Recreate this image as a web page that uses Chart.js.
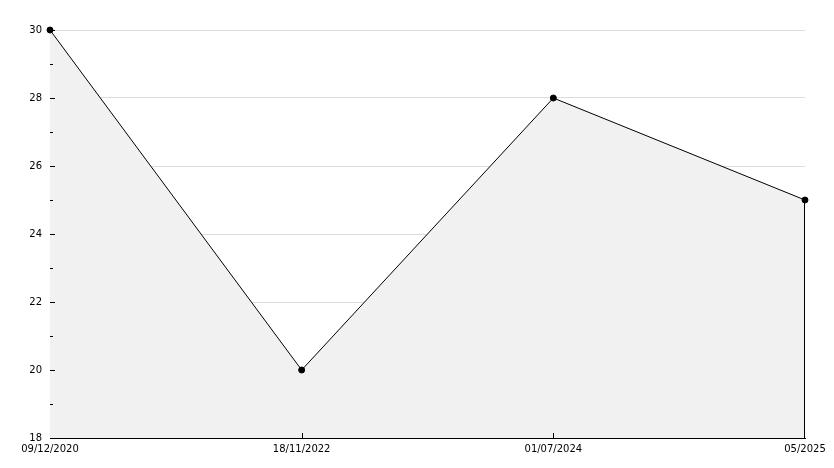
<!DOCTYPE html>
<html>
<head>
<meta charset="utf-8">
<style>
  html, body { margin: 0; padding: 0; background: #fff; }
  canvas { display: block; }
</style>
<script src="https://cdn.jsdelivr.net/npm/chart.js@4"></script>
</head>
<body>
<canvas id="grafica" width="834" height="468"></canvas>
<script>
const fechas = ['09/12/2020', '18/11/2022', '01/07/2024', '05/2025'];
const valores = [30, 20, 28, 25];
const ejeMin = 18;
const ejeMax = 30;

// marcas de los ejes hacia dentro y borde derecho del área
const marcasPlugin = {
  id: 'marcas',
  afterDatasetsDraw(chart) {
    const ctx = chart.ctx;
    const x = chart.scales.x;
    const y = chart.scales.y;
    const area = chart.chartArea;
    ctx.save();
    ctx.strokeStyle = '#000';
    ctx.lineWidth = 1;
    ctx.beginPath();
    for (let v = ejeMin + 1; v <= ejeMax; v++) {
      const py = Math.round(y.getPixelForValue(v)) + 0.5;
      const largo = v % 2 === 0 ? 5 : 3;
      ctx.moveTo(area.left, py);
      ctx.lineTo(area.left + largo, py);
    }
    for (let i = 1; i < fechas.length - 1; i++) {
      const px = Math.round(x.getPixelForValue(i)) + 0.5;
      ctx.moveTo(px, area.bottom);
      ctx.lineTo(px, area.bottom - 5);
    }
    const ultimo = fechas.length - 1;
    const ux = Math.round(x.getPixelForValue(ultimo)) - 0.5;
    ctx.moveTo(ux, y.getPixelForValue(valores[ultimo]));
    ctx.lineTo(ux, area.bottom);
    ctx.stroke();
    ctx.restore();
  }
};

new Chart(document.getElementById('grafica').getContext('2d'), {
  type: 'line',
  data: {
    labels: fechas,
    datasets: [{
      data: valores,
      borderColor: '#000',
      borderWidth: 1,
      backgroundColor: '#f1f1f1',
      fill: 'start',
      tension: 0,
      clip: false,
      pointRadius: 3,
      pointBackgroundColor: '#000',
      pointBorderColor: '#000',
      pointBorderWidth: 1
    }]
  },
  options: {
    responsive: false,
    animation: false,
    layout: { padding: { top: 30, right: 29, left: 0, bottom: 0 } },
    plugins: {
      legend: { display: false },
      tooltip: { enabled: false }
    },
    scales: {
      x: {
        offset: false,
        grid: { display: false, drawTicks: false },
        border: { display: true, color: '#000', width: 1 },
        ticks: {
          color: '#000',
          font: { family: 'DejaVu Sans', size: 10 },
          padding: 5,
          maxRotation: 0,
          autoSkip: false
        },
        afterFit(scale) { scale.height = 30; }
      },
      y: {
        min: ejeMin,
        max: ejeMax,
        grid: {
          drawTicks: false,
          color: ctx => (ctx.tick && ctx.tick.value % 2 === 0) ? '#dcdcdc' : 'rgba(0,0,0,0)'
        },
        border: { display: true, color: '#000', width: 1 },
        ticks: {
          stepSize: 1,
          color: '#000',
          font: { family: 'DejaVu Sans', size: 10 },
          padding: 8,
          callback: v => v % 2 === 0 ? v : ''
        },
        afterFit(scale) { scale.width = 50; }
      }
    }
  },
  plugins: [marcasPlugin]
});
</script>
</body>
</html>
